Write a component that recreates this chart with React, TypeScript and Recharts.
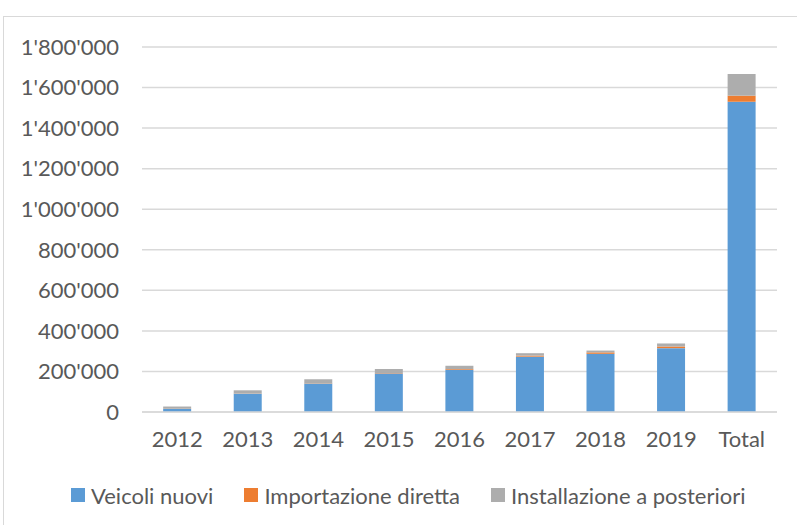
import React from "react"
import { BarChart, Bar, XAxis, YAxis, CartesianGrid, Legend } from "recharts"

const categories = ["2012", "2013", "2014", "2015", "2016", "2017", "2018", "2019", "Total"]
const veicoliNuovi = [15000, 90000, 140000, 190000, 207000, 273000, 287000, 315000, 1530000]
const importazioneDiretta = [1000, 1000, 1500, 2000, 4000, 5000, 7000, 8000, 30000]
const installazionePosteriori = [11000, 16000, 20000, 20000, 17000, 12000, 9000, 15000, 107000]
const yTicks = [0, 200000, 400000, 600000, 800000, 1000000, 1200000, 1400000, 1600000, 1800000]

const data = categories.map((name, i) => ({
    name,
    nuovi: veicoliNuovi[i],
    importazione: importazioneDiretta[i],
    installazione: installazionePosteriori[i],
}))

const FONT = "Lato, 'Open Sans', sans-serif"
const TEXT = "#595959"

// 1800000 -> 1'800'000
const formatTick = (v: number) => String(v).replace(/\B(?=(\d{3})+(?!\d))/g, "'")

const legendItems = [
    { label: "Veicoli nuovi", color: "#5B9BD5" },
    { label: "Importazione diretta", color: "#ED7D31" },
    { label: "Installazione a posteriori", color: "#ADADAD" },
]

const renderLegend = () => (
    <div
        style={{
            height: 61,
            boxSizing: "border-box",
            paddingTop: 20,
            paddingLeft: 67,
            display: "flex",
            fontFamily: FONT,
            fontSize: 22,
            color: TEXT,
        }}
    >
        {legendItems.map((item) => (
            <div key={item.label} style={{ display: "flex", alignItems: "center", marginRight: 31, height: 26 }}>
                <span style={{ width: 14, height: 14, background: item.color, marginRight: 6, display: "inline-block" }} />
                {item.label}
            </div>
        ))}
    </div>
)

const App: React.FC = () => {
    return (
        <div
            style={{
                position: "absolute",
                left: 3,
                top: 16,
                width: 794,
                height: 508,
                border: "1px solid #d9d9d9",
                background: "#fff",
            }}
        >
            <BarChart
                width={794}
                height={506}
                data={data}
                barCategoryGap="30%"
                margin={{ top: 30, right: 21, left: 0, bottom: 0 }}
            >
                <CartesianGrid vertical={false} stroke="#d9d9d9" strokeWidth={1.5} />
                <XAxis
                    dataKey="name"
                    axisLine={{ stroke: "#d9d9d9", strokeWidth: 1.5 }}
                    tickLine={false}
                    tick={{ fill: TEXT, fontSize: 22, fontFamily: FONT }}
                    tickMargin={13}
                    height={50}
                />
                <YAxis
                    domain={[0, 1800000]}
                    ticks={yTicks}
                    interval={0}
                    tickFormatter={formatTick}
                    axisLine={false}
                    tickLine={false}
                    tick={{ fill: TEXT, fontSize: 22, fontFamily: FONT }}
                    tickMargin={17}
                    width={138}
                />
                <Legend verticalAlign="bottom" height={61} content={renderLegend} />
                <Bar dataKey="nuovi" stackId="a" fill="#5B9BD5" isAnimationActive={false} />
                <Bar dataKey="importazione" stackId="a" fill="#ED7D31" isAnimationActive={false} />
                <Bar dataKey="installazione" stackId="a" fill="#ADADAD" isAnimationActive={false} />
            </BarChart>
        </div>
    )
}

export default App
